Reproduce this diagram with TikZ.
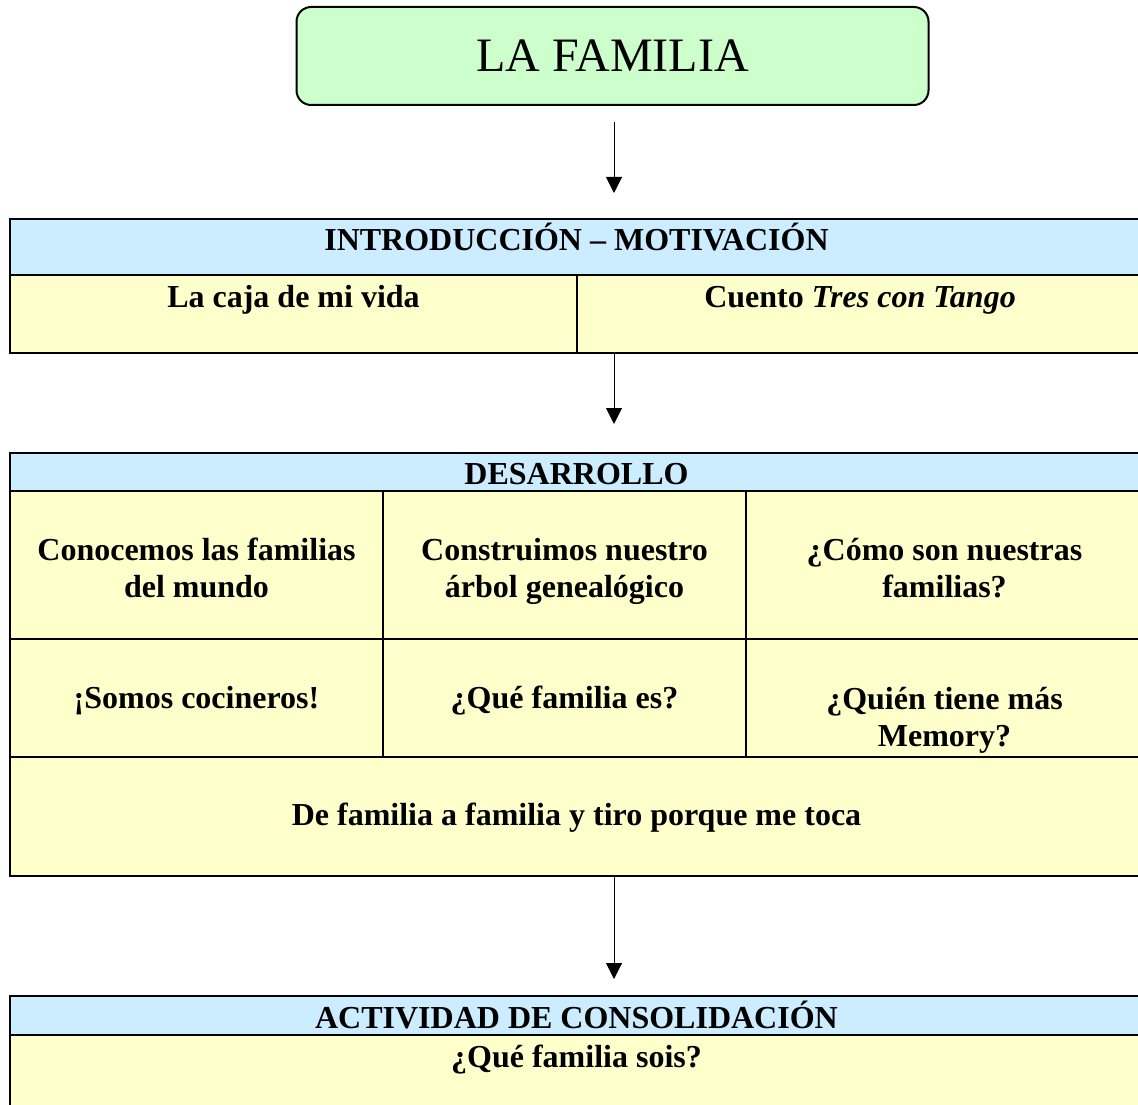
\documentclass[tikz,border=0pt]{standalone}
\usepackage{fontspec}
\setmainfont{Liberation Serif}
\usetikzlibrary{arrows.meta}
\definecolor{titlegreen}{HTML}{CCFFCC}
\definecolor{headblue}{HTML}{CCECFF}
\definecolor{bodyyellow}{HTML}{FFFFCC}
\begin{document}
\begin{tikzpicture}[x=0.75pt,y=-0.75pt,
  outerline/.style={line width=1.6pt},
  innerline/.style={line width=1pt},
  arr/.style={line width=0.75pt,-{Triangle[length=12pt,width=12pt]}},
  celltext/.style={anchor=north,align=center,inner sep=0pt,
    font=\fontsize{24}{27.75}\selectfont\bfseries,
    execute at begin node={\rule{0pt}{24pt}}},
]
\useasboundingbox (0,0) rectangle (1138,1105);

% title
\node[draw, line width=1.5pt, fill=titlegreen, rounded corners=11pt,
  minimum width=474pt, minimum height=73.5pt, inner sep=0pt,
  font=\fontsize{36}{40}\selectfont] (title) at (612.5,56) {LA FAMILIA};

% introduction table
\fill[headblue] (10,219) rectangle (1143,275);
\fill[bodyyellow] (10,275) rectangle (1143,353);
\draw[innerline] (10,275) -- (1143,275);
\draw[innerline] (577,275) -- (577,353);
\draw[outerline] (10,219) rectangle (1143,353);
\node[celltext] (introh) at (576.5,218) {INTRODUCCIÓN – MOTIVACIÓN};
\node[celltext] (caja) at (293.5,275) {La caja de mi vida};
\node[celltext] (cuento) at (860,275) {Cuento \textit{Tres con Tango}};

% desarrollo table
\fill[headblue] (10,453) rectangle (1143,491);
\fill[bodyyellow] (10,491) rectangle (1143,876);
\draw[innerline] (10,491) -- (1143,491);
\draw[innerline] (10,639) -- (1143,639);
\draw[innerline] (10,757) -- (1143,757);
\draw[innerline] (383,491) -- (383,757);
\draw[innerline] (746,491) -- (746,757);
\draw[outerline] (10,453) rectangle (1143,876);
\node[celltext] (desh) at (576.5,452) {DESARROLLO};
\node[celltext] (r1c1) at (196.5,538) {Conocemos las familias\\del mundo};
\node[celltext] (r1c2) at (564.5,538) {Construimos nuestro\\árbol genealógico};
\node[celltext] (r1c3) at (944.5,538) {¿Cómo son nuestras\\familias?};
\node[celltext] (r2c1) at (196.5,676) {¡Somos cocineros!};
\node[celltext] (r2c2) at (564.5,676) {¿Qué familia es?};
\node[celltext] (r2c3) at (944.5,687) {¿Quién tiene más\\Memory?};
\node[celltext] (r3) at (576.5,793) {De familia a familia y tiro porque me toca};

% consolidation table
\fill[headblue] (10,996) rectangle (1143,1035);
\fill[bodyyellow] (10,1035) rectangle (1143,1120);
\draw[innerline] (10,1035) -- (1143,1035);
\draw[outerline] (10,1120) -- (10,996) -- (1143,996) -- (1143,1120);
\node[celltext] (conh) at (576.5,996) {ACTIVIDAD DE CONSOLIDACIÓN};
\node[celltext] (conb) at (576.5,1035) {¿Qué familia sois?};

% arrows
\coordinate (a1s) at (614,122);
\coordinate (a1e) at (614,193);
\coordinate (a2s) at (614,353);
\coordinate (a2e) at (614,424);
\coordinate (a3s) at (614,876);
\coordinate (a3e) at (614,979);
\draw[arr] (a1s) -- (a1e);
\draw[arr] (a2s) -- (a2e);
\draw[arr] (a3s) -- (a3e);
\end{tikzpicture}
\end{document}
